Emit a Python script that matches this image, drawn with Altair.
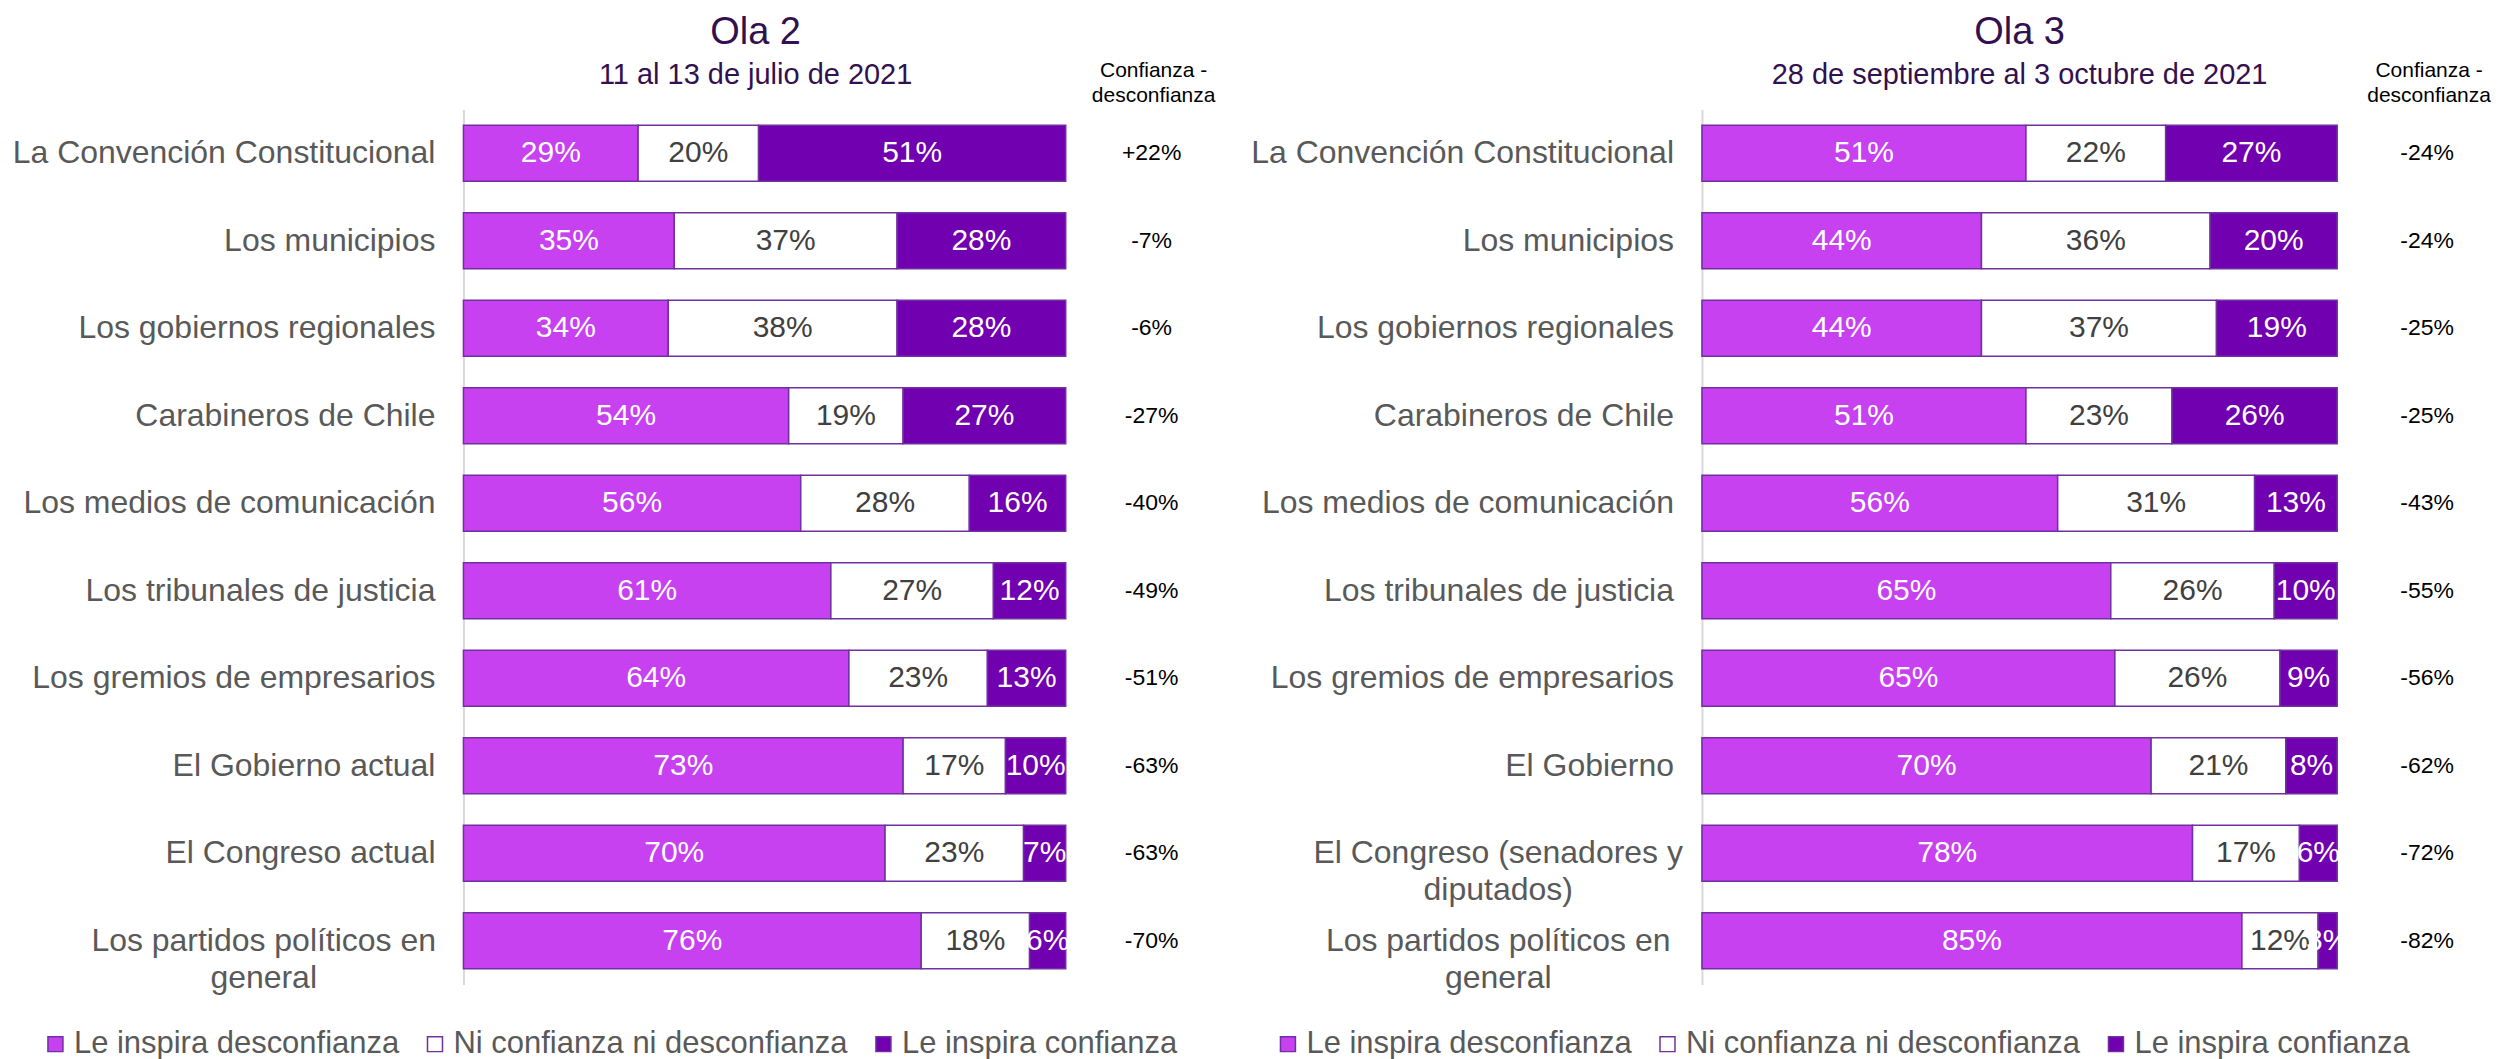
import altair as alt
import pandas as pd

FONT = "Liberation Sans"

series_names = ["Le inspira desconfianza", "Ni confianza ni desconfianza", "Le inspira confianza"]
series_colors = ["#C741F0", "#FFFFFF", "#7100B0"]
header_text = ["Confianza -\ndesconfianza"]

# Ola 2
title_ola2 = "Ola 2"
subtitle_ola2 = "11 al 13 de julio de 2021"
cats_ola2 = ["La Convención Constitucional", "Los municipios", "Los gobiernos regionales",
             "Carabineros de Chile", "Los medios de comunicación", "Los tribunales de justicia",
             "Los gremios de empresarios", "El Gobierno actual", "El Congreso actual",
             "Los partidos políticos en\ngeneral"]
desconf_ola2 = [29, 35, 34, 54, 56, 61, 64, 73, 70, 76]
ni_ola2 = [20, 37, 38, 19, 28, 27, 23, 17, 23, 18]
conf_ola2 = [51, 28, 28, 27, 16, 12, 13, 10, 7, 6]
diff_ola2 = ["+22%", "-7%", "-6%", "-27%", "-40%", "-49%", "-51%", "-63%", "-63%", "-70%"]

# Ola 3
title_ola3 = "Ola 3"
subtitle_ola3 = "28 de septiembre al 3 octubre de 2021"
cats_ola3 = ["La Convención Constitucional", "Los municipios", "Los gobiernos regionales",
             "Carabineros de Chile", "Los medios de comunicación", "Los tribunales de justicia",
             "Los gremios de empresarios", "El Gobierno", "El Congreso (senadores y\ndiputados)",
             "Los partidos políticos en\ngeneral"]
desconf_ola3 = [51, 44, 44, 51, 56, 65, 65, 70, 78, 85]
ni_ola3 = [22, 36, 37, 23, 31, 26, 26, 21, 17, 12]
conf_ola3 = [27, 20, 19, 26, 13, 10, 9, 8, 6, 3]
diff_ola3 = ["-24%", "-24%", "-25%", "-25%", "-43%", "-55%", "-56%", "-62%", "-72%", "-82%"]

PLOT_H = 876
TITLE_COLOR = "#33104F"
LABEL_COLOR = "#595959"
STROKE = "#7030A0"


def panel(cats, d, n, c, diffs, title, subtitle, width, diff_x, header_x, title_dx,
          legend_x, multi_x):
    rows = []
    for i, cat in enumerate(cats):
        for j, vals in enumerate([d, n, c]):
            rows.append({"cat": cat, "serie": series_names[j], "value": vals[i], "ord": j,
                         "diff": diffs[i], "multi": 1 if "\n" in cat else 0})
    df = pd.DataFrame(rows)
    base = alt.Chart(df)
    stacked = base.transform_stack(
        stack="value", groupby=["cat"], as_=["v0", "v1"], offset="normalize",
        sort=[alt.SortField("ord", order="ascending")],
    )
    y = alt.Y("cat:N", sort=cats,
              scale=alt.Scale(paddingInner=0.36, paddingOuter=0.18),
              axis=alt.Axis(labels=False, ticks=False, title=None, grid=False,
                            domainColor="#D9D9D9", domainWidth=2))
    bars = stacked.mark_bar(stroke=STROKE, strokeWidth=1.5).encode(
        x=alt.X("v0:Q", scale=alt.Scale(domain=[0, 1], nice=False), axis=None),
        x2="v1:Q",
        y=y,
        color=alt.Color("serie:N", scale=alt.Scale(domain=series_names, range=series_colors),
                        legend=alt.Legend(orient="none", legendX=legend_x, legendY=920,
                                          direction="horizontal", title=None,
                                          symbolType="square", symbolSize=225,
                                          symbolStrokeColor=STROKE, symbolStrokeWidth=1.5,
                                          labelFontSize=31, labelFont=FONT,
                                          labelColor=LABEL_COLOR, columnPadding=20,
                                          labelOffset=3, labelLimit=0)),
    )
    pct = stacked.transform_calculate(
        mid="(datum.v0 + datum.v1) / 2", lab="datum.value + '%'"
    ).mark_text(fontSize=30, font=FONT, baseline="middle").encode(
        x=alt.X("mid:Q"),
        y=alt.Y("cat:N", sort=cats),
        text="lab:N",
        color=alt.condition(alt.datum.ord == 1, alt.value("#404040"), alt.value("#FFFFFF")),
    )
    lab_single = base.transform_filter("datum.ord == 0 && datum.multi == 0").mark_text(
        align="right", baseline="middle", fontSize=32, font=FONT, color=LABEL_COLOR
    ).encode(y=alt.Y("cat:N", sort=cats), x=alt.value(-28), text="cat:N")
    lab_multi = base.transform_filter("datum.ord == 0 && datum.multi == 1").mark_text(
        align="center", baseline="middle", fontSize=32, font=FONT, color=LABEL_COLOR,
        lineBreak="\n", lineHeight=37
    ).encode(y=alt.Y("cat:N", sort=cats), x=alt.value(multi_x), text="cat:N")
    diff = base.transform_filter("datum.ord == 0").mark_text(
        align="center", baseline="middle", fontSize=23, font=FONT, color="#000000"
    ).encode(y=alt.Y("cat:N", sort=cats), x=alt.value(diff_x), text="diff:N")
    header = alt.Chart(pd.DataFrame({"h": header_text})).mark_text(
        align="center", baseline="middle", fontSize=21, font=FONT, color="#000000",
        lineBreak="\n", lineHeight=25
    ).encode(x=alt.value(header_x), y=alt.value(-39), text="h:N")
    return alt.layer(bars, pct, lab_single, lab_multi, diff, header).properties(
        width=width, height=PLOT_H,
        title=alt.TitleParams(text=title, subtitle=subtitle, fontSize=38, subtitleFontSize=29,
                              font=FONT, subtitleFont=FONT, fontWeight="normal",
                              color=TITLE_COLOR, subtitleColor=TITLE_COLOR,
                              anchor="middle", frame="group", offset=-30,
                              subtitlePadding=9, dx=title_dx),
    )


left = panel(cats_ola2, desconf_ola2, ni_ola2, conf_ola2, diff_ola2, title_ola2, subtitle_ola2,
             603, 689, 691, -9, -424, -200)
right = panel(cats_ola3, desconf_ola3, ni_ola3, conf_ola3, diff_ola3, title_ola3, subtitle_ola3,
              636, 726, 728, 0, -430, -204)

chart = alt.hconcat(left, right, spacing=35).resolve_scale(
    x="independent", y="independent", color="independent"
).resolve_legend(color="independent").properties(
    padding={"top": 5, "left": 4, "right": 0, "bottom": 0}
).configure_view(stroke=None)

chart.save("out.html", embed_options={"renderer": "svg", "actions": False})
